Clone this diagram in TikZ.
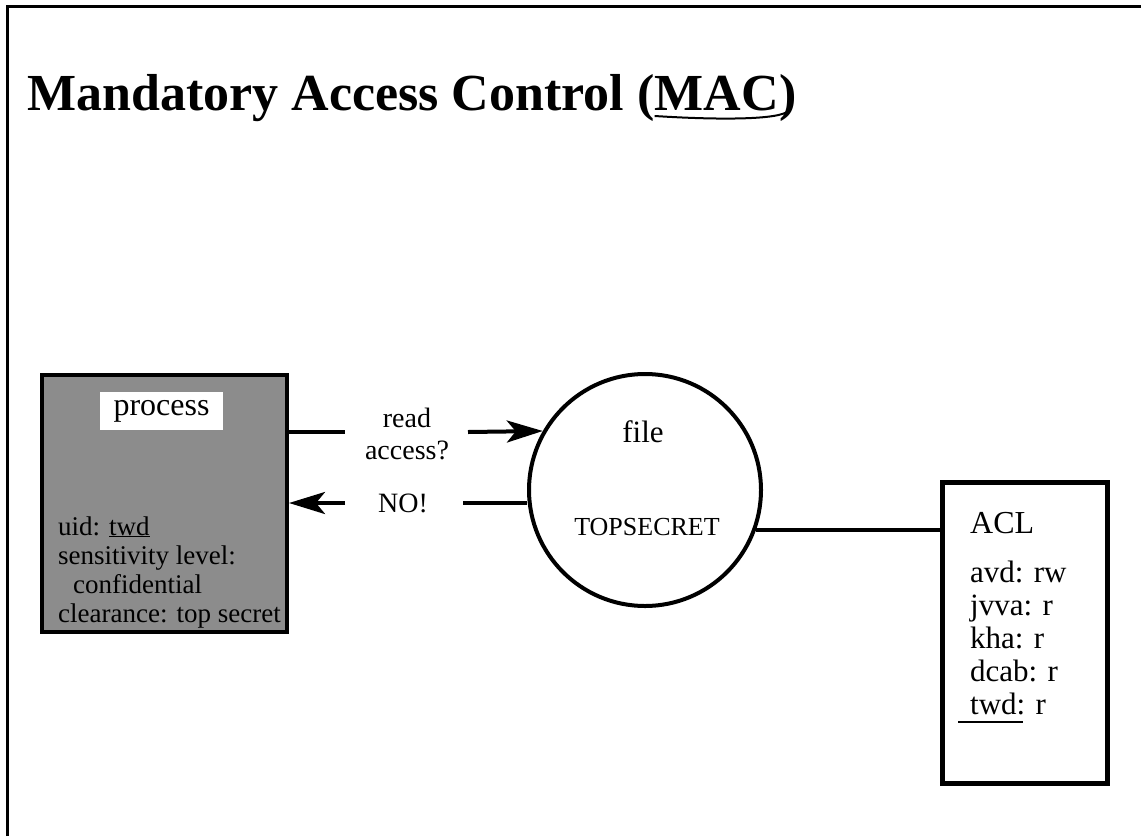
\documentclass[tikz,border=0pt]{standalone}
\usepackage{fontspec}
\setmainfont{Liberation Serif}
\usetikzlibrary{arrows.meta}
\begin{document}
\begin{tikzpicture}[x=1pt,y=-1pt,
  heavy/.style={line width=4pt},
  arr/.style={heavy,-{Stealth[length=36pt,width=22pt,inset=9pt]}},
  ttl/.style={anchor=base west,inner sep=0pt,font=\fontsize{52}{60}\selectfont\bfseries},
  ptext/.style={anchor=base west,inner sep=0pt,font=\fontsize{27}{29}\selectfont},
  atext/.style={anchor=base west,inner sep=0pt,font=\fontsize{31}{33}\selectfont},
  lbl/.style={inner sep=0pt,font=\fontsize{28}{32}\selectfont,align=center},
]
\useasboundingbox[fill=white] (0,0) rectangle (1141,836);
\draw[line width=3pt] (7,836) -- (7,6) -- (1141,6);

% title
\node[ttl] (t1) at (27,110) {Mandatory Access Control (};
\node[ttl] (t2) at (t1.base east) {MAC};
\node[ttl] (t3) at (t2.base east) {)};
\draw[line width=2pt] ([yshift=-6pt]t2.base west) .. controls ([yshift=-10pt]t2.base) and ([yshift=-10pt]t2.base east) .. ([yshift=-1pt]t3.base);

% process box
\node[draw,heavy,fill=black!45,minimum width=245pt,minimum height=257pt,inner sep=0pt,anchor=north west] (proc) at (40,373) {};
\node[fill=white,minimum width=123pt,minimum height=38pt,inner sep=0pt,font=\fontsize{32}{36}\selectfont] (plabel) at (161.5,411) {process};
\node[ptext] (p1) at (58,535) {uid: \underline{twd}};
\node[ptext] (p2) at (58,564) {sensitivity level:};
\node[ptext] (p3) at (73,593) {confidential};
\node[ptext] (p4) at (58,622) {clearance: top secret};

% file circle
\node[circle,draw,heavy,minimum size=232pt,inner sep=0pt] (filec) at (645,490) {};
\node[font=\fontsize{31}{33}\selectfont] (filet) at (643,432) {file};
\node[font=\fontsize{26}{30}\selectfont] (tops) at (647,527) {TOPSECRET};

% read request
\coordinate (r1) at (345,432);
\draw[heavy] (r1 -| proc.east) -- (r1);
\node[lbl] (readq) at (407,434) {read\\access?};
\coordinate (r2) at (468,432);
\draw[arr] (r2) -- (filec.150.5);

% answer
\coordinate (n1) at (345,503);
\draw[arr] (n1) -- (n1 -| proc.east);
\node[lbl] (no) at (403,503) {NO!};
\coordinate (n2) at (463,503);
\draw[heavy] (n2) -- (n2 -| filec.west);

% ACL
\node[draw,line width=5pt,minimum width=165pt,minimum height=301pt,inner sep=0pt,anchor=north west] (acl) at (940,480) {};
\draw[heavy] (filec.-20) -- (filec.-20 -| acl.west);
\node[atext,font=\fontsize{32}{34}\selectfont] (acltitle) at (970,533) {ACL};
\node[atext] (a1) at (970,582) {avd: rw};
\node[atext] (a2) at (970,615) {jvva: r};
\node[atext] (a3) at (970,648) {kha: r};
\node[atext] (a4) at (970,681) {dcab: r};
\node[atext] (a5) at (970,714) {twd: r};
\draw[line width=1.5pt] ([xshift=-12pt,yshift=-8pt]a5.base west) -- ([xshift=53pt,yshift=-8pt]a5.base west);
\end{tikzpicture}
\end{document}
